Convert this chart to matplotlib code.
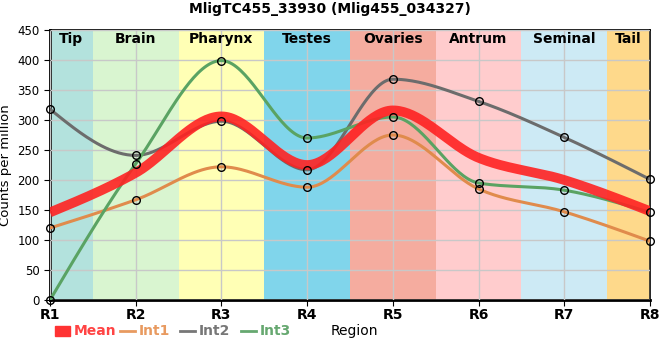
import matplotlib.pyplot as plt
import numpy as np

regions = ['R1', 'R2', 'R3', 'R4', 'R5', 'R6', 'R7', 'R8']
tissues = ['Tip', 'Brain', 'Pharynx', 'Testes', 'Ovaries', 'Antrum', 'Seminal', 'Tail']
tissue_colors = ['#b3e2dd', '#d9f5d0', '#ffffb5', '#80d5eb', '#f5ac9f',
                 '#ffcccd', '#cdeaf5', '#fed98b']

mean = [146, 212, 306, 225, 316, 237, 200, 148]
int1 = [120, 167, 222, 188, 275, 185, 147, 98]
int2 = [318, 241, 298, 217, 368, 331, 271, 201]
int3 = [0, 227, 399, 270, 305, 195, 183, 146]


def sgn(v):
    return -1.0 if v < 0 else 1.0


def monotone(x, y, n=40):
    # monotone cubic curve (same rules as d3 curveMonotoneX)
    x = np.asarray(x, float)
    y = np.asarray(y, float)
    h = np.diff(x)
    s = np.diff(y) / h
    m = np.zeros_like(y)
    for i in range(1, len(y) - 1):
        p = (s[i - 1] * h[i] + s[i] * h[i - 1]) / (h[i - 1] + h[i])
        m[i] = (sgn(s[i - 1]) + sgn(s[i])) * min(abs(s[i - 1]), abs(s[i]), 0.5 * abs(p))
    m[0] = (3 * s[0] - m[1]) / 2
    m[-1] = (3 * s[-1] - m[-2]) / 2
    xs, ys = [], []
    for i in range(len(h)):
        t = np.linspace(0, 1, n, endpoint=(i == len(h) - 1))
        h00 = 2 * t**3 - 3 * t**2 + 1
        h10 = t**3 - 2 * t**2 + t
        h01 = -2 * t**3 + 3 * t**2
        h11 = t**3 - t**2
        xs.append(x[i] + t * h[i])
        ys.append(h00 * y[i] + h10 * h[i] * m[i] + h01 * y[i + 1] + h11 * h[i] * m[i + 1])
    return np.concatenate(xs), np.concatenate(ys)


x = np.arange(len(regions))

fig = plt.figure(figsize=(6.6, 3.6), dpi=100)
ax = fig.add_axes([50 / 660, 60 / 360, 600 / 660, 270 / 360])

bounds = [0, 0.5, 1.5, 2.5, 3.5, 4.5, 5.5, 6.5, 7]
for i, (name, col) in enumerate(zip(tissues, tissue_colors)):
    ax.axvspan(bounds[i], bounds[i + 1], color=col, lw=0, zorder=0)
    ax.text((bounds[i] + bounds[i + 1]) / 2, 435, name, ha='center', va='center',
            fontsize=10, fontweight='bold', zorder=5)

ax.grid(True, color='#c8c8c8', lw=1, zorder=1)
ax.set_axisbelow(False)
for gl in ax.get_xgridlines() + ax.get_ygridlines():
    gl.set_zorder(1)

series = [('Int1', int1, '#e08b4c'), ('Int2', int2, '#6c6c6c'), ('Int3', int3, '#5aa363')]
for name, vals, col in series:
    xs, ys = monotone(x, vals)
    ax.plot(xs, ys, color=col, lw=2.2, zorder=3, label=name)

xs, ys = monotone(x, mean)
ax.plot(xs, ys, color='#ff2222', lw=7, alpha=0.9, zorder=4, solid_capstyle='butt')

for name, vals, col in series:
    ax.plot(x, vals, ls='none', marker='o', ms=5.5, mfc='none', mec='black',
            mew=1, zorder=6, clip_on=False)

ax.set_xlim(0, 7)
ax.set_ylim(0, 450)
ax.set_xticks(x)
ax.set_xticklabels(regions, fontweight='bold', fontsize=10)
ax.set_yticks(range(0, 451, 50))
ax.tick_params(axis='y', labelsize=8.5, length=4)
ax.tick_params(axis='x', length=4, pad=2)
ax.set_ylabel('Counts per million', fontsize=9.5)

for s in ax.spines.values():
    s.set_linewidth(1.2)
ax.spines['left'].set_linewidth(2)
ax.spines['bottom'].set_linewidth(2)

fig.text(0.5, 0.975, 'MligTC455_33930 (Mlig455_034327)', ha='center', va='center',
         fontsize=10, fontweight='bold')

# legend row at the bottom
ly = 1 - 331 / 360
fig.patches.append(plt.Rectangle((55 / 660, ly - 0.014), 15 / 660, 0.028,
                                 transform=fig.transFigure, color='#ff3333'))
fig.text(74 / 660, ly, 'Mean', color='#ff4444', fontsize=10, fontweight='bold', va='center')
legend_items = [(120, 'Int1', '#e89a60'), (180, 'Int2', '#777777'), (241, 'Int3', '#66a870')]
for px, name, col in legend_items:
    fig.lines.append(plt.Line2D([px / 660, (px + 15) / 660], [ly, ly],
                                transform=fig.transFigure, color=col, lw=2))
    fig.text((px + 19) / 660, ly, name, color=col, fontsize=10, fontweight='bold', va='center')
fig.text(331 / 660, ly, 'Region', fontsize=10, va='center')

fig.savefig('out.png', dpi=100)
